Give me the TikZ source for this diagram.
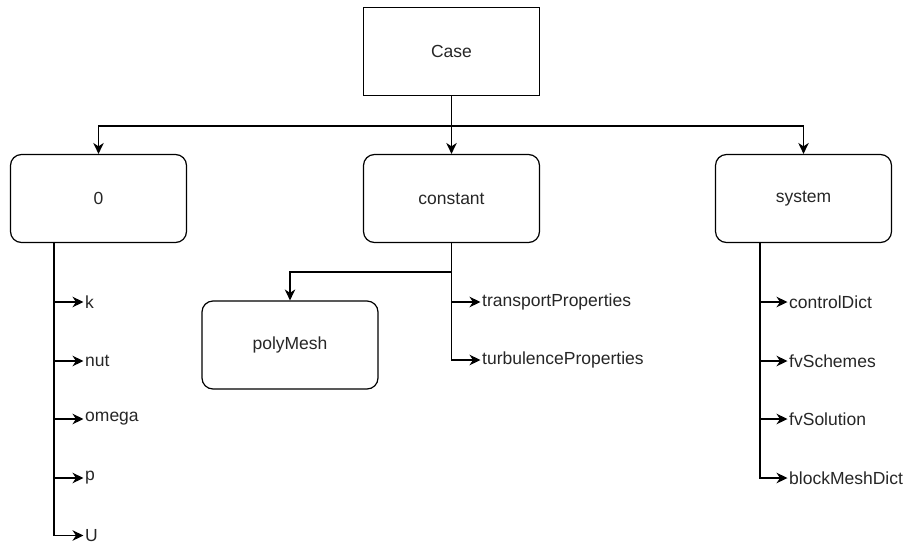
\documentclass[tikz,border=0pt]{standalone}
\usepackage{fontspec}
\setmainfont{Liberation Sans}
\usetikzlibrary{arrows.meta}
\begin{document}
\begin{tikzpicture}[x=1pt,y=-1pt,
  font=\fontsize{17.5}{20}\selectfont,
  every node/.style={text=black!85},
  box/.style={draw=black, line width=1.2pt, minimum width=176pt, minimum height=88pt, inner sep=0pt},
  folder/.style={box, rounded corners=11pt},
  leaf/.style={anchor=west, inner sep=0pt},
  arr/.style={draw, line width=1.2pt, -{Stealth[length=11pt,width=10.5pt,inset=3.5pt]}},
  wire/.style={draw, line width=1.2pt}]
\useasboundingbox (0,0) rectangle (909,544);

% top-level case folder
\node[box] (case) at (451.5,51.5) {Case};

% first-level folders
\node[folder] (zero)  at (98.5,198.5)  {0};
\node[folder] (const) at (451.5,198.5) {constant};
\node[folder] (sys)   at (803.5,198.5) {system};
\node[folder] (poly)  at (290,345)     {polyMesh};

% branch points
\coordinate (bus) at (451.5,126);
\coordinate (zspine) at (54,242);
\coordinate (cspine) at (451.5,242);
\coordinate (cbranch) at (451.5,272);
\coordinate (sspine) at (760,242);

% files in 0
\node[leaf] (k)     at (85,302) {k};
\node[leaf] (nut)   at (85,361) {nut};
\node[leaf] (omega) at (85,419) {omega};
\node[leaf] (p)     at (85,478) {p};
\node[leaf] (U)     at (85,535.5) {U};

% files in constant
\node[leaf] (tp) at (482,302) {transportProperties};
\node[leaf] (tb) at (482,360) {turbulenceProperties};

% files in system
\node[leaf] (cd) at (789,302) {controlDict};
\node[leaf] (fs) at (789,361) {fvSchemes};
\node[leaf] (fo) at (789,419) {fvSolution};
\node[leaf] (bm) at (789,478) {blockMeshDict};

% case -> folders
\draw[wire] (case.south) -- (bus);
\draw[arr] (bus) -| (zero.north);
\draw[arr] (bus) -- (const.north);
\draw[arr] (bus) -| (sys.north);

% 0 -> files
\foreach \f in {k,nut,omega,p,U}
  \draw[arr] (zspine) |- ([xshift=-1.5pt]\f.west);

% constant -> contents
\draw[arr] (cbranch) -| (poly.north);
\foreach \f in {tp,tb}
  \draw[arr] (cspine) |- ([xshift=-1.5pt]\f.west);

% system -> files
\foreach \f in {cd,fs,fo,bm}
  \draw[arr] (sspine) |- ([xshift=-1.5pt]\f.west);
\end{tikzpicture}
\end{document}
